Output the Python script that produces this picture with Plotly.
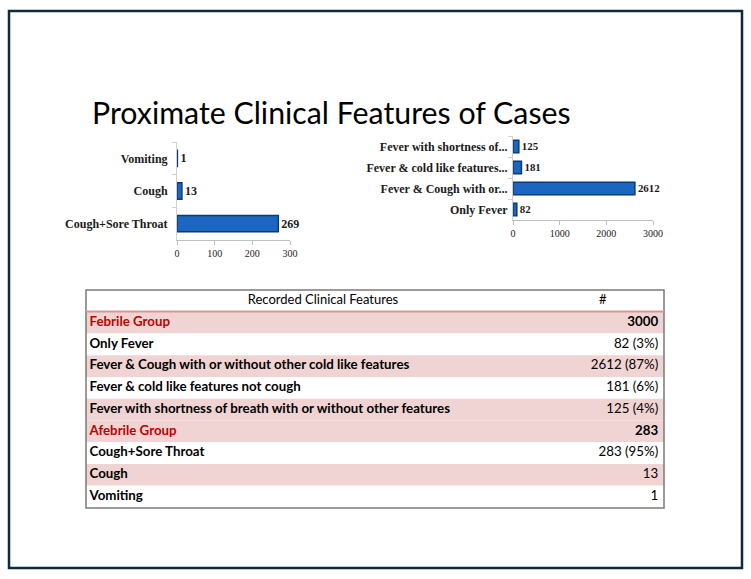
import plotly.graph_objects as go

# afebrile chart (left)
afeb_labels = ["Cough+Sore Throat", "Cough", "Vomiting"]
afeb_values = [269, 13, 1]

# febrile chart (right)
feb_labels = ["Only Fever", "Fever & Cough with or...", "Fever & cold like features...",
              "Fever with shortness of..."]
feb_values = [82, 2612, 181, 125]

# table
tbl_header = ["Recorded Clinical Features", "#"]
tbl_features = ["Febrile Group", "Only Fever", "Fever & Cough with or without other cold like features",
                "Fever & cold like features not cough",
                "Fever with shortness of breath with or without other features",
                "Afebrile Group", "Cough+Sore Throat", "Cough", "Vomiting"]
tbl_counts = ["3000", "82 (3%)", "2612 (87%)", "181 (6%)", "125 (4%)", "283", "283 (95%)", "13", "1"]
group_rows = [0, 5]

W, H = 751, 579
def px(x):
    return x / W
def py(y):
    return 1 - y / H

bar_color = "#1b66c0"
bar_edge = "#0c3b73"
serif = "Liberation Serif"
sans = "Lato"

fig = go.Figure()

fig.add_trace(go.Bar(
    y=afeb_labels, x=afeb_values, orientation="h",
    marker=dict(color=bar_color, line=dict(color=bar_edge, width=1.5)),
    text=afeb_values, textposition="outside", cliponaxis=False,
    textfont=dict(family=serif, size=12, color="#1a1a1a", weight="bold"),
    xaxis="x", yaxis="y", width=0.5, showlegend=False, hoverinfo="skip"))

fig.add_trace(go.Bar(
    y=feb_labels, x=feb_values, orientation="h",
    marker=dict(color=bar_color, line=dict(color=bar_edge, width=1.5)),
    text=feb_values, textposition="outside", cliponaxis=False,
    textfont=dict(family=serif, size=13, color="#1a1a1a", weight="bold"),
    xaxis="x2", yaxis="y2", width=0.6, showlegend=False, hoverinfo="skip"))

# table drawn on its own hidden axes: one row per unit on y3
pink = "#f0d4d4"
rows = list(range(1, len(tbl_features) + 1))
row_fill = [pink, "white", pink, "white", pink, pink, "white", pink, "white"]
text_col = ["#c00000" if i in group_rows else "black" for i in range(len(tbl_features))]
count_w = ["bold" if i in group_rows else "normal" for i in range(len(tbl_counts))]

fig.add_trace(go.Bar(
    y=rows, x=[1] * len(rows), orientation="h", width=1,
    marker=dict(color=row_fill, line=dict(width=0)),
    xaxis="x3", yaxis="y3", showlegend=False, hoverinfo="skip"))

fig.add_trace(go.Scatter(
    x=[0.41, 0.894], y=[0, 0], text=tbl_header, mode="text", textposition="middle center",
    textfont=dict(family=sans, size=13, color="black"),
    xaxis="x3", yaxis="y3", showlegend=False, hoverinfo="skip"))

fig.add_trace(go.Scatter(
    x=[0.006] * len(rows), y=rows, text=tbl_features, mode="text", textposition="middle right",
    textfont=dict(family=sans, size=13.3, color=text_col, weight="bold"),
    xaxis="x3", yaxis="y3", showlegend=False, hoverinfo="skip"))

fig.add_trace(go.Scatter(
    x=[0.99] * len(rows), y=rows, text=tbl_counts, mode="text", textposition="middle left",
    textfont=dict(family=sans, size=13.3, color="black", weight=count_w),
    xaxis="x3", yaxis="y3", showlegend=False, hoverinfo="skip"))

axis_common = dict(showgrid=False, zeroline=False, fixedrange=True, automargin=False)
xtick = dict(family=serif, size=10, color="#222")
ytick = dict(family=serif, size=12, color="#1a1a1a", weight="bold")

fig.update_layout(
    width=W, height=H, margin=dict(l=0, r=0, t=0, b=0, pad=0, autoexpand=False),
    paper_bgcolor="white", plot_bgcolor="rgba(0,0,0,0)",
    xaxis=dict(domain=[px(177), px(290)], range=[0, 300], tickvals=[0, 100, 200, 300],
               anchor="y", showline=True, linecolor="#bfbfbf", ticks="outside", ticklen=4,
               tickcolor="#bfbfbf", tickfont=xtick, **axis_common),
    yaxis=dict(domain=[py(240), py(142)], anchor="x", showline=True, linecolor="#d0d0d0",
               ticks="outside", tickson="boundaries", ticklen=4, tickcolor="#d0d0d0",
               ticklabelstandoff=6, tickfont=ytick, **axis_common),
    xaxis2=dict(domain=[px(513), px(653)], range=[0, 3000], tickvals=[0, 1000, 2000, 3000],
                anchor="y2", showline=True, linecolor="#bfbfbf", ticks="outside", ticklen=4,
                tickcolor="#bfbfbf", tickfont=xtick, **axis_common),
    yaxis2=dict(domain=[py(220), py(136)], anchor="x2", showline=True, linecolor="#d0d0d0",
                ticks="outside", tickson="boundaries", ticklen=4, tickcolor="#d0d0d0",
                ticklabelstandoff=2, tickfont=ytick, **axis_common),
    xaxis3=dict(domain=[px(86), px(664)], range=[0, 1], anchor="y3", visible=False, **axis_common),
    yaxis3=dict(domain=[py(507.5), py(290)], range=[len(rows) + 0.5, -0.5], anchor="x3",
                visible=False, **axis_common),
)

# slide title
fig.add_annotation(text="Proximate Clinical Features of Cases", x=px(331), y=py(112),
                   xref="paper", yref="paper", xanchor="center", yanchor="middle",
                   showarrow=False, font=dict(family=sans, size=30.3, color="black"))

# slide frame, table border, header rule
fig.add_shape(type="rect", xref="paper", yref="paper", x0=px(9), x1=px(742), y0=py(568), y1=py(11),
              line=dict(color="#0d2a3f", width=2.5))
fig.add_shape(type="rect", xref="paper", yref="paper", x0=px(86), x1=px(664), y0=py(508), y1=py(290),
              line=dict(color="#7a7a7a", width=1.5))
fig.add_shape(type="line", xref="paper", yref="paper", x0=px(86), x1=px(664), y0=py(311.5), y1=py(311.5),
              line=dict(color="#d99594", width=2))

page_js = ("document.body.style.margin='0';"
           "document.body.style.overflow='hidden';"
           "document.documentElement.style.overflow='hidden';")

fig.write_html("out.html", config={"displayModeBar": False}, post_script=page_js)
